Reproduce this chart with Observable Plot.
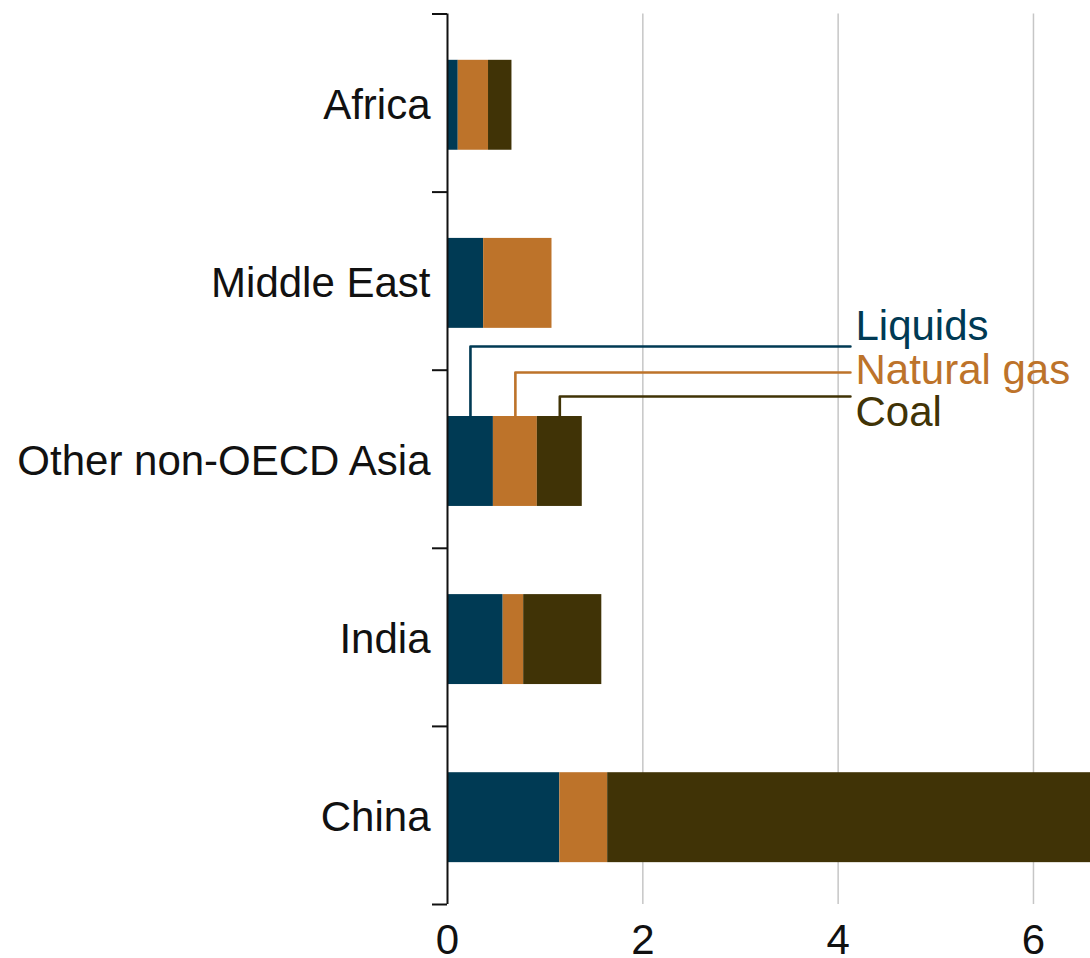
<!DOCTYPE html>
<html><head><meta charset="utf-8">
<script src="https://cdn.jsdelivr.net/npm/d3@7"></script>
<script src="https://cdn.jsdelivr.net/npm/@observablehq/plot@0.6"></script>
<style>body{margin:0;background:#fff}</style>
</head><body><div id="chart"></div>
<script>
// ---- data ----
const regions = ["Africa", "Middle East", "Other non-OECD Asia", "India", "China"];
const liquids = [0.11, 0.37, 0.47, 0.57, 1.15];
const naturalGas = [0.31, 0.70, 0.45, 0.21, 0.49];
const coal = [0.24, 0.00, 0.46, 0.80, 6.40];
const fuels = ["Liquids", "Natural gas", "Coal"];
const fuelColors = ["#003a54", "#bd732a", "#403306"];
const xTicks = [0, 2, 4, 6];
// legend callout (attached to "Other non-OECD Asia")
const legendRegion = "Other non-OECD Asia";
const legendLineLevel = [2.633, 2.487, 2.352];
const legendLabelY = [2.745, 2.5, 2.265];
const legendLineEnd = 4.126;

// ---- build tables ----
const series = [liquids, naturalGas, coal];
const n = regions.length;
const yPos = i => n - 1 - i; // Africa on top
const rows = [];
regions.forEach((r, i) => {
  let acc = 0;
  fuels.forEach((f, k) => {
    const v = series[k][i];
    rows.push({region: r, fuel: f, x1: acc, x2: acc + v, y1: yPos(i) - 0.265, y2: yPos(i) + 0.24});
    acc += v;
  });
});
const li = regions.indexOf(legendRegion);
const leaderPts = [];
const labelRows = [];
fuels.forEach((f, k) => {
  const seg = rows.find(d => d.region === legendRegion && d.fuel === f);
  const mid = (seg.x1 + seg.x2) / 2;
  leaderPts.push({fuel: f, x: mid, y: seg.y2});
  leaderPts.push({fuel: f, x: mid, y: legendLineLevel[k]});
  leaderPts.push({fuel: f, x: legendLineEnd, y: legendLineLevel[k]});
  labelRows.push({fuel: f, x: legendLineEnd, y: legendLabelY[k]});
});
const boundaries = d3.range(n + 1).map(i => i - 0.5);
const centers = d3.range(n);

const chart = Plot.plot({
  width: 1090, height: 958,
  marginLeft: 447, marginRight: 0, marginTop: 13.5, marginBottom: 54,
  style: {fontFamily: "'Liberation Sans', Arial, sans-serif", fontSize: "42px", color: "#111", background: "#fff"},
  x: {domain: [0, 6.584], axis: null},
  y: {domain: [-0.5, n - 0.5], axis: null},
  color: {domain: fuels, range: fuelColors},
  marks: [
    Plot.ruleX(xTicks.filter(t => t > 0), {y1: -0.5, y2: n - 0.5, stroke: "#c6c6c6", strokeWidth: 1.5}),
    Plot.rectX(rows, {x1: "x1", x2: "x2", y1: "y1", y2: "y2", fill: "fuel", clip: true}),
    Plot.ruleX([0], {y1: -0.5, y2: n - 0.5, stroke: "#111", strokeWidth: 2}),
    Plot.axisY({ticks: boundaries, tickSize: 15, tickFormat: () => "", stroke: "#111", strokeWidth: 2}),
    Plot.axisY({ticks: centers, tickSize: 0, tickPadding: 17, tickFormat: i => regions[yPos(i)], fontSize: 42, fill: "#111", dy: 2}),
    Plot.axisX({ticks: xTicks, tickSize: 0, tickPadding: 20, tickFormat: d3.format("d"), fontSize: 42, fill: "#111"}),
    Plot.line(leaderPts, {x: "x", y: "y", z: "fuel", stroke: "fuel", strokeWidth: 2.6, curve: "linear"}),
    Plot.text(labelRows, {x: "x", y: "y", text: "fuel", fill: "fuel", dx: 5, textAnchor: "start", fontSize: 42})
  ]
});
document.getElementById("chart").append(chart);
</script>
</body></html>
